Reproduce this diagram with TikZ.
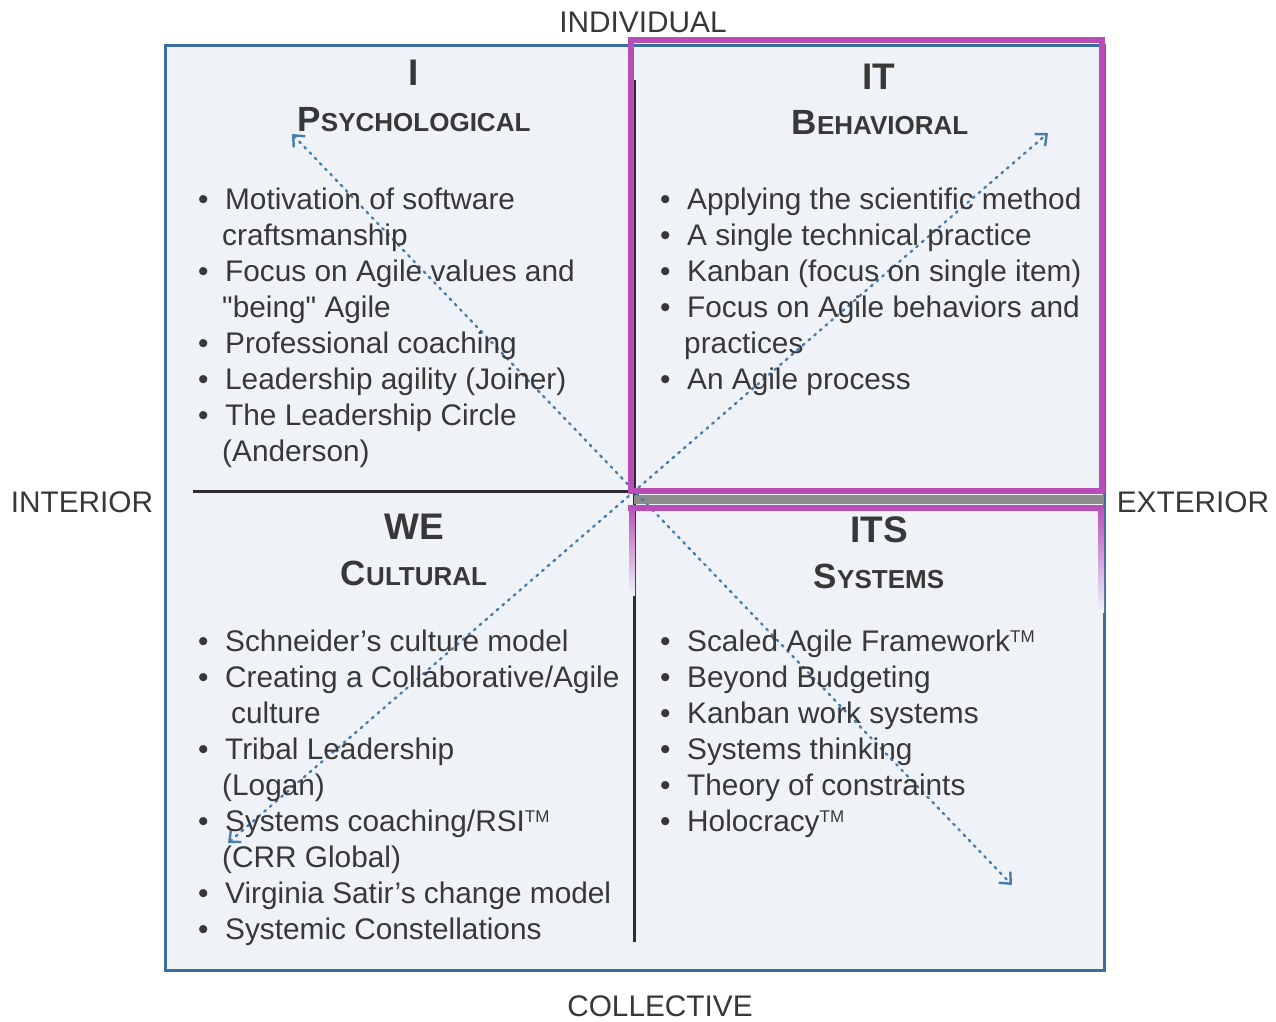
\documentclass[tikz,border=0pt]{standalone}
\usepackage{fontspec}
\setmainfont{Liberation Sans}
\usetikzlibrary{arrows.meta}

\definecolor{boxblue}{HTML}{3A6E9E}
\definecolor{paneback}{HTML}{EFF3F8}
\definecolor{hilite}{HTML}{B84DB8}
\definecolor{ink}{HTML}{383838}
\definecolor{dotblue}{HTML}{4A7DAA}

\newcommand{\bul}[1]{\makebox[27pt][l]{\textbullet}#1}
\newcommand{\cont}[2][24pt]{\hspace*{#1}#2}
\newcommand{\qname}[2]{{\fontsize{35}{35}\selectfont #1}{\fontsize{26}{26}\selectfont #2}}
\newcommand{\tmark}{\textsuperscript{\fontsize{17}{17}\selectfont TM}}

\tikzset{
  axislabel/.style={text=ink, font=\fontsize{29.8}{36}\selectfont, inner sep=0},
  quadtitle/.style={text=ink, font=\bfseries\fontsize{37}{37}\selectfont, inner sep=0},
  quadsub/.style={text=ink, font=\bfseries, inner sep=0},
  itemlist/.style={text=ink, font=\fontsize{29.8}{36}\selectfont, align=left, anchor=north west, inner sep=0},
  quarter/.style={dotblue, line width=2.4pt, dash pattern=on 2pt off 5.5pt, line cap=round}
}

\begin{document}
\begin{tikzpicture}[x=1pt, y=-1pt, >={Straight Barb[length=9pt,width=16pt]}]
    \useasboundingbox (0,0) rectangle (1276,1021);
    \fill[white] (0,0) rectangle (1276,1021);

    % frame and dividers
    \fill[paneback] (165,45) rectangle (1104,970);
    \draw[boxblue, line width=3pt] (165,45) rectangle (1104,970);
    \draw[ink!80!black, line width=3pt] (634,80) -- (634,942);
    \draw[ink!80!black, line width=3pt] (193,491) -- (634,491);
    \fill[gray!90] (634,495) rectangle (1104,504);

    % dotted diagonals
    \coordinate (psyend) at (292,134);
    \coordinate (sysend) at (1012,885);
    \coordinate (behend) at (1048,133);
    \coordinate (culend) at (228,843);
    \draw[quarter, <->] (psyend) -- (sysend);
    \draw[quarter, <->] (culend) -- (behend);

    % axis labels
    \node[axislabel] (indiv) at (643,22) {INDIVIDUAL};
    \node[axislabel] (collect) at (660,1006) {COLLECTIVE};
    \node[axislabel] (inter) at (82,502) {INTERIOR};
    \node[axislabel] (exter) at (1193,502) {EXTERIOR};

    % quadrant titles
    \node[quadtitle] (ititle) at (414,73) {I};
    \node[quadsub] (psych) at (414,120) {\qname{P}{SYCHOLOGICAL}};
    \node[quadtitle] (ittitle) at (879,77) {IT};
    \node[quadsub] (behav) at (880,123) {\qname{B}{EHAVIORAL}};
    \node[quadtitle] (wetitle) at (414,527) {WE};
    \node[quadsub] (cult) at (414,573) {\qname{C}{ULTURAL}};
    \node[quadtitle] (itstitle) at (879,530) {ITS};
    \node[quadsub] (syst) at (879,576) {\qname{S}{YSTEMS}};

    % lists
    \node[itemlist] (psylist) at (198,188) {%
      \bul{Motivation of software}\\
      \cont{craftsmanship}\\
      \bul{Focus on Agile values and}\\
      \cont{\textquotedbl being\textquotedbl\ Agile}\\
      \bul{Professional coaching}\\
      \bul{Leadership agility (Joiner)}\\
      \bul{The Leadership Circle}\\
      \cont{(Anderson)}};
    \node[itemlist] (behlist) at (660,188) {%
      \bul{Applying the scientific method}\\
      \bul{A single technical practice}\\
      \bul{Kanban (focus on single item)}\\
      \bul{Focus on Agile behaviors and}\\
      \cont{practices}\\
      \bul{An Agile process}};
    \node[itemlist] (cullist) at (198,630) {%
      \bul{Schneider’s culture model}\\
      \bul{Creating a Collaborative/Agile}\\
      \cont[33pt]{culture}\\
      \bul{Tribal Leadership}\\
      \cont{(Logan)}\\
      \bul{Systems coaching/RSI\tmark}\\
      \cont{(CRR Global)}\\
      \bul{Virginia Satir’s change model}\\
      \bul{Systemic Constellations}};
    \node[itemlist] (syslist) at (660,630) {%
      \bul{Scaled Agile Framework\tmark}\\
      \bul{Beyond Budgeting}\\
      \bul{Kanban work systems}\\
      \bul{Systems thinking}\\
      \bul{Theory of constraints}\\
      \bul{Holocracy\tmark}};

    % highlight boxes
    \draw[hilite, line width=6pt] (631,40) rectangle (1102,491);
    \draw[hilite, line width=6pt] (628,508) -- (1104,508);
    \shade[top color=hilite, bottom color=paneback] (629,505) rectangle (635,595);
    \shade[top color=hilite, bottom color=paneback] (1098,505) rectangle (1104,612);

  \end{tikzpicture}
\end{document}
